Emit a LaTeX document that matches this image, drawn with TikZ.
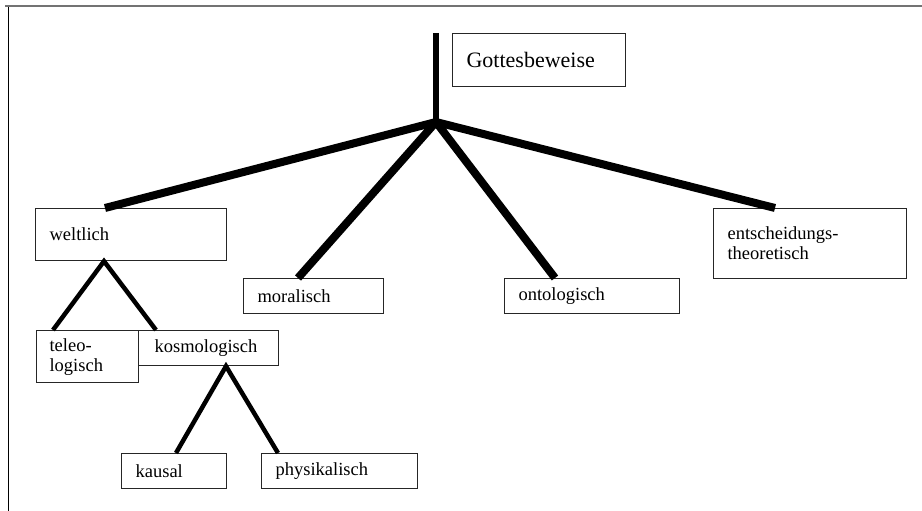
\documentclass[tikz,border=0pt]{standalone}
\usepackage{fontspec}
\setmainfont{Liberation Serif}
\begin{document}
\begin{tikzpicture}[x=1pt,y=-1pt,
  tbox/.style={draw=black!85, line width=1.2pt, inner xsep=14pt, inner ysep=0pt,
    align=left, anchor=north west, font=\fontsize{18.5}{20}\selectfont},
  mainline/.style={line width=8pt, black},
  subline/.style={line width=4.5pt, black}]
\useasboundingbox (0,0) rectangle (922,511);
\fill[white] (0,0) rectangle (922,511);
% frame
\draw[line width=2pt, black!55] (5,6.5) -- (922,6.5);
\draw[line width=1pt, black] (8,7) -- (8,511);
% boxes
\node[tbox, text width=145pt, minimum height=53pt, font=\fontsize{22}{24}\selectfont] (gott) at (452,33) {Gottesbeweise};
\node[tbox, text width=163pt, minimum height=52pt] (welt) at (35,208) {weltlich};
\node[tbox, text width=112pt, minimum height=35pt] (moral) at (243,278) {moralisch};
\node[tbox, text width=147pt, minimum height=35pt] (onto) at (504,278) {ontologisch};
\node[tbox, text width=165pt, minimum height=70pt] (ents) at (713,208) {entscheidungs-\\theoretisch};
\node[tbox, inner xsep=13pt, text width=76pt, minimum height=52pt] (teleo) at (36,330) {teleo-\\logisch};
\node[tbox, inner xsep=16pt, text width=108pt, minimum height=35pt] (kosmo) at (138,330) {kosmologisch};
\node[tbox, text width=77pt, minimum height=35pt] (kausal) at (121,453) {kausal};
\node[tbox, text width=128pt, minimum height=35pt] (phys) at (261,453) {physikalisch};
% junction
\coordinate (top) at (436,33);
\coordinate (J) at (436,122);
\draw[line width=5.5pt] (top) -- (J);
\draw[mainline] ([xshift=70pt]welt.north west) -- (J);
\draw[mainline] ([xshift=55pt]moral.north west) -- (J);
\draw[mainline] ([xshift=51pt]onto.north west) -- (J);
\draw[mainline] ([xshift=62pt]ents.north west) -- (J);
\fill (J) circle (4pt);
% sub trees
\draw[subline, line join=miter] ([xshift=17pt]teleo.north west) -- ([xshift=69pt]welt.south west) -- ([xshift=18pt]kosmo.north west);
\draw[subline, line join=miter] ([xshift=55pt]kausal.north west) -- ([xshift=88pt]kosmo.south west) -- ([xshift=17pt]phys.north west);
\end{tikzpicture}
\end{document}
